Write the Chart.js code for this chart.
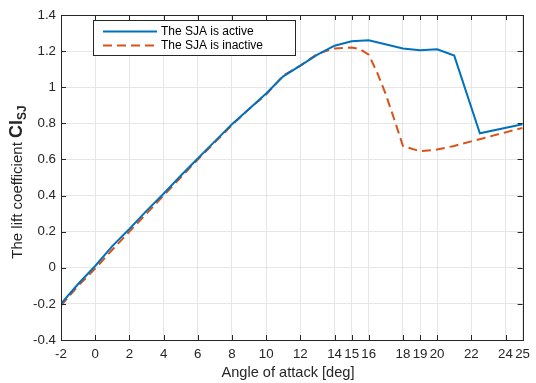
<!DOCTYPE html>
<html>
<head>
<meta charset="utf-8">
<script src="https://cdn.jsdelivr.net/npm/chart.js@4"></script>
<style>
  html, body { margin: 0; padding: 0; background: #fff; }
  #wrap { width: 536px; height: 383px; }
</style>
</head>
<body>
<div id="wrap"><canvas id="lift" width="536" height="383"></canvas></div>
<script>
// data
var activeAngle = [-2,-1,0,1,2,3,4,5,6,7,8,9,10,11,12,13,14,15,16,18,19,20,21,22.5,25];
var activeCl = [-0.2,-0.09,0.01,0.12,0.215,0.315,0.41,0.51,0.605,0.70,0.795,0.88,0.965,1.06,1.12,1.18,1.23,1.255,1.26,1.215,1.205,1.21,1.175,0.745,0.795];
var inactiveAngle = [-2,-1,0,1,2,3,4,5,6,7,8,9,10,11,12,13,14,15,15.5,16,16.5,17,17.5,18,19,20,21,22,23,24,25];
var inactiveCl = [-0.21,-0.1,-0.005,0.1,0.2,0.3,0.4,0.5,0.6,0.695,0.79,0.88,0.96,1.065,1.12,1.185,1.215,1.22,1.21,1.18,1.08,0.96,0.82,0.675,0.645,0.655,0.675,0.70,0.725,0.75,0.775];
var xTicks = [-2,0,2,4,6,8,10,12,14,15,16,18,19,20,22,24,25];
var yTicks = [-0.4,-0.2,0,0.2,0.4,0.6,0.8,1,1.2,1.4];
var seriesNames = ["The SJA is active","The SJA is inactive"];

var FONT = "'Liberation Sans', Arial, Helvetica, sans-serif";
var TXT = "#262626";

function toPoints(xs, ys) {
    return xs.map(function (x, i) { return { x: x, y: ys[i] }; });
}

// frame, inward ticks, legend and axis titles, matlab style
var decor = {
    id: "decor",
    afterDraw: function (chart) {
        var ctx = chart.ctx, a = chart.chartArea;
        var xs = chart.scales.x, ys = chart.scales.y;
        ctx.save();
        ctx.strokeStyle = TXT;
        ctx.lineWidth = 1;
        ctx.strokeRect(Math.round(a.left) + 0.5, Math.round(a.top) + 0.5,
            Math.round(a.right - a.left), Math.round(a.bottom - a.top));
        ctx.beginPath();
        xTicks.forEach(function (v) {
            var px = Math.round(xs.getPixelForValue(v)) + 0.5;
            ctx.moveTo(px, a.bottom); ctx.lineTo(px, a.bottom - 5);
            ctx.moveTo(px, a.top); ctx.lineTo(px, a.top + 5);
        });
        yTicks.forEach(function (v) {
            var py = Math.round(ys.getPixelForValue(v)) + 0.5;
            ctx.moveTo(a.left, py); ctx.lineTo(a.left + 5, py);
            ctx.moveTo(a.right, py); ctx.lineTo(a.right - 5, py);
        });
        ctx.stroke();

        // legend
        ctx.fillStyle = "#fff";
        ctx.fillRect(93, 20, 202, 35);
        ctx.strokeStyle = TXT;
        ctx.strokeRect(93.5, 20.5, 202, 35);
        chart.data.datasets.forEach(function (ds, i) {
            var y = 31.5 + i * 14;
            ctx.beginPath();
            ctx.strokeStyle = ds.borderColor;
            ctx.lineWidth = 2;
            ctx.setLineDash(ds.borderDash || []);
            ctx.moveTo(103, y); ctx.lineTo(157, y);
            ctx.stroke();
            ctx.setLineDash([]);
            ctx.fillStyle = "#000";
            ctx.font = "12px " + FONT;
            ctx.textBaseline = "middle";
            ctx.textAlign = "left";
            ctx.fillText(ds.label, 161, y);
        });

        // x title
        ctx.fillStyle = TXT;
        ctx.font = "14.6px " + FONT;
        ctx.textAlign = "center";
        ctx.textBaseline = "middle";
        ctx.fillText("Angle of attack [deg]", 288, 373);

        // y title with bold Cl and subscript SJ
        ctx.translate(18, 182);
        ctx.rotate(-Math.PI / 2);
        ctx.textAlign = "left";
        ctx.textBaseline = "middle";
        var f1 = "15px " + FONT, f2 = "bold 18px " + FONT, f3 = "bold 12px " + FONT;
        var t1 = "The lift coefficient ", t2 = "Cl", t3 = "SJ";
        ctx.font = f1; var w1 = ctx.measureText(t1).width;
        ctx.font = f2; var w2 = ctx.measureText(t2).width;
        ctx.font = f3; var w3 = ctx.measureText(t3).width;
        var x0 = -(w1 + w2 + w3) / 2;
        ctx.font = f1; ctx.fillText(t1, x0, 0);
        ctx.font = f2; ctx.fillText(t2, x0 + w1, -1);
        ctx.font = f3; ctx.fillText(t3, x0 + w1 + w2, 5);
        ctx.restore();
    }
};

var canvasElement = document.getElementById("lift");
var config = {
    type: "line",
    data: {
        datasets: [{
            label: seriesNames[0],
            data: toPoints(activeAngle, activeCl),
            borderColor: "#0072BD",
            borderWidth: 2,
            pointRadius: 0,
            tension: 0
        }, {
            label: seriesNames[1],
            data: toPoints(inactiveAngle, inactiveCl),
            borderColor: "#D95319",
            borderWidth: 2,
            borderDash: [9, 5],
            pointRadius: 0,
            tension: 0
        }]
    },
    options: {
        responsive: false,
        animation: false,
        layout: { padding: { left: 0, right: 6, top: 15, bottom: 0 } },
        plugins: { legend: { display: false }, tooltip: { enabled: false } },
        scales: {
            x: {
                type: "linear",
                min: -2,
                max: 25,
                afterBuildTicks: function (s) { s.ticks = xTicks.map(function (v) { return { value: v }; }); },
                afterFit: function (s) { s.height = 43; },
                grid: { color: "#e6e6e6", drawTicks: false },
                border: { display: false },
                ticks: {
                    autoSkip: false, maxRotation: 0, padding: 6,
                    color: TXT, font: { family: FONT, size: 13.3 },
                    callback: function (v) { return String(v); }
                }
            },
            y: {
                min: -0.4,
                max: 1.4,
                afterBuildTicks: function (s) { s.ticks = yTicks.map(function (v) { return { value: v }; }); },
                afterFit: function (s) { s.width = 61; },
                grid: { color: "#e6e6e6", drawTicks: false },
                border: { display: false },
                ticks: {
                    padding: 5,
                    color: TXT, font: { family: FONT, size: 13.3 },
                    callback: function (v) { return String(Number(v.toFixed(1))); }
                }
            }
        }
    },
    plugins: [decor]
};

var liftChart = new Chart(canvasElement, config);
</script>
</body>
</html>
